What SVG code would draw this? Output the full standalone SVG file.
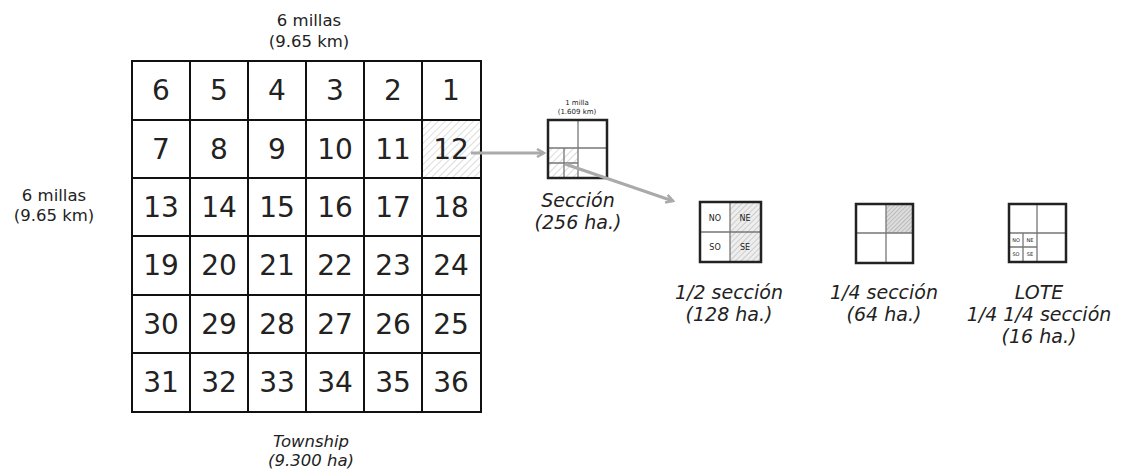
<svg xmlns="http://www.w3.org/2000/svg" width="1122" height="471" viewBox="0 0 1122 471">
<style>
  text { font-family: "DejaVu Sans", Verdana, sans-serif; fill: #222; text-anchor: middle; }
  .num { font-size: 28px; fill: #111; }
  .lbl { font-size: 16.5px; }
  .it { font-size: 19px; font-style: italic; }
  .tiny { font-size: 7px; }
  .sm { font-size: 8px; }
  .xs { font-size: 5px; }
  .grid { fill: none; stroke: #111; stroke-width: 2; }
  .box { fill: none; stroke: #222; stroke-width: 2.5; }
  .inner { fill: none; stroke: #777; stroke-width: 1.3; }
  .conn { fill: none; stroke: #aaa; stroke-width: 3; }
</style>
<defs>
  <pattern id="hatch" width="5" height="5" patternUnits="userSpaceOnUse" patternTransform="rotate(45)">
    <rect width="5" height="5" fill="#fff"/>
    <line x1="0" y1="0" x2="0" y2="5" stroke="#bbb" stroke-width="1"/>
  </pattern>
  <pattern id="hatch2" width="4" height="4" patternUnits="userSpaceOnUse" patternTransform="rotate(45)">
    <rect width="4" height="4" fill="#eee"/>
    <line x1="0" y1="0" x2="0" y2="4" stroke="#aaa" stroke-width="1"/>
  </pattern>
  <pattern id="hatch3" width="3" height="3" patternUnits="userSpaceOnUse" patternTransform="rotate(45)">
    <rect width="3" height="3" fill="#ddd"/>
    <line x1="0" y1="0" x2="0" y2="3" stroke="#999" stroke-width="1"/>
  </pattern>
  <marker id="chev" markerWidth="10" markerHeight="10" refX="8" refY="5" orient="auto" markerUnits="userSpaceOnUse">
    <path d="M1,1 L8,5 L1,9" fill="none" stroke="#aaa" stroke-width="2.5"/>
  </marker>
</defs>

<g id="township">
  <rect x="422" y="120" width="59" height="58" fill="url(#hatch)"/>
  <rect class="grid" x="132" y="61" width="349" height="351"/>
  <path class="grid" d="M190,61V412 M248,61V412 M306,61V412 M364,61V412 M422,61V412 M132,120H481 M132,178H481 M132,236H481 M132,295H481 M132,353H481"/>
  <g class="num">
    <text x="161" y="100">6</text><text x="219" y="100">5</text><text x="277" y="100">4</text><text x="335" y="100">3</text><text x="393" y="100">2</text><text x="451" y="100">1</text>
    <text x="161" y="159">7</text><text x="219" y="159">8</text><text x="277" y="159">9</text><text x="335" y="159">10</text><text x="393" y="159">11</text><text x="451" y="159">12</text>
    <text x="161" y="217">13</text><text x="219" y="217">14</text><text x="277" y="217">15</text><text x="335" y="217">16</text><text x="393" y="217">17</text><text x="451" y="217">18</text>
    <text x="161" y="275">19</text><text x="219" y="275">20</text><text x="277" y="275">21</text><text x="335" y="275">22</text><text x="393" y="275">23</text><text x="451" y="275">24</text>
    <text x="161" y="334">30</text><text x="219" y="334">29</text><text x="277" y="334">28</text><text x="335" y="334">27</text><text x="393" y="334">26</text><text x="451" y="334">25</text>
    <text x="161" y="392">31</text><text x="219" y="392">32</text><text x="277" y="392">33</text><text x="335" y="392">34</text><text x="393" y="392">35</text><text x="451" y="392">36</text>
  </g>
  <text class="lbl" x="309" y="26">6 millas</text>
  <text class="lbl" x="309" y="47">(9.65 km)</text>
  <text class="lbl" x="54" y="201">6 millas</text>
  <text class="lbl" x="54" y="221">(9.65 km)</text>
  <text class="lbl" font-size="17" font-style="italic" x="311" y="447">Township</text>
  <text class="lbl" font-size="17" font-style="italic" x="311" y="466">(9.300 ha)</text>
</g>

<g id="seccion">
  <rect x="548" y="148" width="30" height="30" fill="url(#hatch)"/>
  <path class="inner" d="M578,120V178 M548,148H607 M564,148V178 M548,163H578"/>
  <rect class="box" x="548" y="120" width="59" height="58"/>
  <text class="tiny" x="577" y="105">1 milla</text>
  <text class="tiny" x="577" y="114">(1.609 km)</text>
  <text class="it" font-size="20" x="578" y="207">Sección</text>
  <text class="it" font-size="20" x="578" y="229">(256 ha.)</text>
</g>

<g id="media-seccion">
  <rect x="730" y="202" width="31" height="60" fill="url(#hatch2)"/>
  <path class="inner" d="M730,202V262 M700,232H761"/>
  <rect class="box" x="700" y="202" width="61" height="60"/>
  <text class="sm" x="715" y="221">NO</text>
  <text class="sm" x="745" y="221">NE</text>
  <text class="sm" x="715" y="250">SO</text>
  <text class="sm" x="745" y="250">SE</text>
  <text class="it" x="729" y="299">1/2 sección</text>
  <text class="it" x="729" y="321">(128 ha.)</text>
</g>

<g id="cuarto-seccion">
  <rect x="886" y="204" width="27" height="29" fill="url(#hatch3)"/>
  <path class="inner" d="M886,204V263 M856,233H913"/>
  <rect class="box" x="856" y="204" width="57" height="59"/>
  <text class="it" x="884" y="299">1/4 sección</text>
  <text class="it" x="884" y="321">(64 ha.)</text>
</g>

<g id="lote">
  <path class="inner" d="M1037,204V262 M1009,233H1066 M1023,233V262 M1009,247H1037"/>
  <rect class="box" x="1009" y="204" width="57" height="58"/>
  <text class="xs" x="1016" y="242">NO</text>
  <text class="xs" x="1030" y="242">NE</text>
  <text class="xs" x="1016" y="256">SO</text>
  <text class="xs" x="1030" y="256">SE</text>
  <text class="it" x="1039" y="299">LOTE</text>
  <text class="it" x="1039" y="321">1/4 1/4 sección</text>
  <text class="it" x="1039" y="343">(16 ha.)</text>
</g>

<g id="connectors">
  <line class="conn" x1="471" y1="153" x2="544" y2="153" marker-end="url(#chev)"/>
  <line class="conn" x1="565" y1="164" x2="673" y2="201" marker-end="url(#chev)"/>
</g>
</svg>
